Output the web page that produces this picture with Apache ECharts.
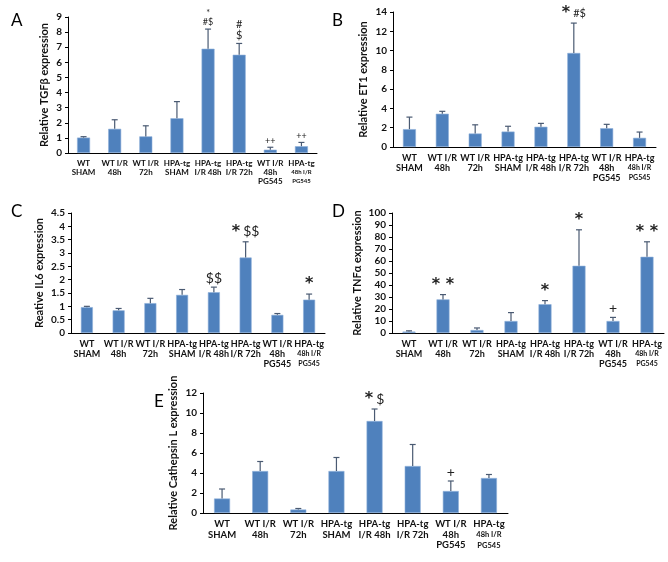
<!DOCTYPE html>
<html>
<head>
<meta charset="utf-8">
<script src="https://cdn.jsdelivr.net/npm/echarts@6/dist/echarts.min.js"></script>
<style>
  html, body { margin: 0; padding: 0; background: #fff; }
  #chart { width: 668px; height: 562px; }
</style>
</head>
<body>
<div id="chart"></div>
<script>
// category labels (last group uses smaller type for its 2nd/3rd line)
const labelsA = ["WT\nSHAM", "WT I/R\n48h", "WT I/R\n72h", "HPA-tg\nSHAM", "HPA-tg\nI/R 48h", "HPA-tg\nI/R 72h", "WT I/R\n48h\nPG545", "HPA-tg\n{s|48h I/R}\n{s|PG545}"];
const labelsB = ["WT\nSHAM", "WT I/R\n48h", "WT I/R\n72h", "HPA-tg\nSHAM", "HPA-tg\nI/R 48h", "HPA-tg\nI/R 72h", "WT I/R\n48h\nPG545", "HPA-tg\n{s|48h I/R}\n{s|PG545}"];
const labelsE = ["WT\nSHAM", "WT I/R\n48h", "WT I/R\n72h", "HPA-tg\nSHAM", "HPA-tg\nI/R 48h", "HPA-tg\nI/R 72h", "WT I/R\n48h\nPG545", "HPA-tg\n{s|48h I/R}\n{s|PG545}"];

// A: TGFβ
const tgfMean = [1.02, 1.6, 1.1, 2.3, 6.9, 6.5, 0.22, 0.45];
const tgfSd = [0.06, 0.6, 0.7, 1.1, 1.3, 0.75, 0.16, 0.25];
const tgfMarks = ["", "", "", "", "{s|*}\n{s|#$}", "{m|#}\n{m|$}", "{s|++}", "{s|++}"];
// B: ET1
const et1Mean = [1.85, 3.45, 1.4, 1.6, 2.1, 9.75, 1.95, 0.95];
const et1Sd = [1.25, 0.25, 0.9, 0.55, 0.35, 3.1, 0.4, 0.6];
const et1Marks = ["", "", "", "", "", "{b|*} {m|#$}", "", ""];
// C: IL6
const il6Mean = [0.97, 0.85, 1.12, 1.43, 1.53, 2.83, 0.68, 1.25];
const il6Sd = [0.03, 0.07, 0.18, 0.2, 0.19, 0.59, 0.05, 0.21];
const il6Marks = ["", "", "", "", "{l|$$}", "{b|*} {l|$$}", "", "{b|*}"];
// D: TNFα
const tnfMean = [1.2, 28, 2.5, 10, 24, 56, 10, 63.5];
const tnfSd = [0.6, 4, 1.7, 7, 3, 30, 3, 12.5];
const tnfMarks = ["", "{b|* *}", "", "", "{b|*}", "{b|*}", "{l|+}", "{b|* *}"];
// E: Cathepsin L
const catMean = [1.45, 4.2, 0.35, 4.2, 9.2, 4.7, 2.2, 3.5];
const catSd = [0.95, 0.95, 0.1, 1.35, 1.2, 2.15, 1.0, 0.35];
const catMarks = ["", "", "", "", "{b|*} {l|$}", "", "{l|+}", ""];

const FONT = "Lato";
const BAR = "#4F81BD";

const markRich = {
  s: { fontSize: 9, fontFamily: FONT, lineHeight: 9 },
  m: { fontSize: 11, fontFamily: FONT, lineHeight: 11 },
  l: { fontSize: 14, fontFamily: FONT },
  b: { fontSize: 16, fontFamily: "DejaVu Sans", fontWeight: "bold" }
};

function errItem(params, api) {
  const base = api.coord([api.value(0), api.value(1)]);
  const top = api.coord([api.value(0), api.value(1) + api.value(2)]);
  const st = { stroke: "#4a5a72", lineWidth: 1.2 };
  return {
    type: "group",
    children: [
      { type: "line", shape: { x1: base[0], y1: base[1], x2: top[0], y2: top[1] }, style: st },
      { type: "line", shape: { x1: top[0] - 3, y1: top[1], x2: top[0] + 3, y2: top[1] }, style: st }
    ]
  };
}

function markItem(marks) {
  return function (params, api) {
    const txt = marks[params.dataIndex];
    if (!txt) return null;
    const p = api.coord([api.value(0), api.value(1) + api.value(2)]);
    return {
      type: "text",
      style: {
        text: txt, x: p[0], y: p[1] - 2,
        align: "center", verticalAlign: "bottom",
        fill: "#222", fontFamily: FONT, rich: markRich
      }
    };
  };
}

let grids = [], xAxes = [], yAxes = [], series = [], titles = [];

function addPanel(i, cfg) {
  grids.push(cfg.grid);
  xAxes.push({
    type: "category", gridIndex: i, data: cfg.labels,
    axisLine: { lineStyle: { color: "#000", width: 1 } },
    axisTick: { alignWithLabel: false, length: 4, lineStyle: { color: "#000" } },
    axisLabel: {
      interval: 0, color: "#111", fontFamily: FONT, fontWeight: "bold",
      fontSize: cfg.xFont, lineHeight: cfg.xFont + 1, margin: 6,
      rich: { s: { fontSize: cfg.xFont - 2, fontWeight: "bold", fontFamily: FONT, lineHeight: cfg.xFont + 1, color: "#111" } }
    }
  });
  yAxes.push({
    type: "value", gridIndex: i, min: 0, max: cfg.max, interval: cfg.step,
    name: cfg.name, nameLocation: "middle", nameGap: cfg.nameGap,
    nameTextStyle: { fontFamily: FONT, fontSize: 11, fontWeight: "bold", color: "#111" },
    axisLine: { show: true, lineStyle: { color: "#000", width: 1 } },
    axisTick: { show: true, length: 3, lineStyle: { color: "#000" } },
    splitLine: { show: false },
    axisLabel: { color: "#111", fontFamily: FONT, fontWeight: "bold", fontSize: 10, margin: 6 }
  });
  const rows = cfg.mean.map((m, k) => [k, m, cfg.sd[k]]);
  series.push({
    type: "bar", xAxisIndex: i, yAxisIndex: i, data: cfg.mean, barWidth: cfg.barW,
    itemStyle: { color: BAR, borderColor: "#8fb0da", borderWidth: 0.6 },
    silent: true
  });
  series.push({
    type: "custom", xAxisIndex: i, yAxisIndex: i, data: rows,
    renderItem: errItem, z: 3, silent: true
  });
  series.push({
    type: "custom", xAxisIndex: i, yAxisIndex: i, data: rows,
    renderItem: markItem(cfg.marks), z: 4, silent: true
  });
  titles.push({
    text: cfg.letter, left: cfg.lx, top: cfg.ly,
    textStyle: { fontFamily: FONT, fontWeight: "normal", fontSize: 17, color: "#000" }
  });
}

addPanel(0, {
  letter: "A", lx: 6, ly: 7,
  grid: { left: 68, top: 17, width: 249, height: 136 },
  labels: labelsA, xFont: 8, barW: 13,
  max: 9, step: 1, name: "Relative TGFβ expression", nameGap: 18,
  mean: tgfMean, sd: tgfSd, marks: tgfMarks
});
addPanel(1, {
  letter: "B", lx: 327, ly: 7,
  grid: { left: 393, top: 12, width: 263, height: 135 },
  labels: labelsB, xFont: 9, barW: 13,
  max: 14, step: 2, name: "Relative ET1 expression", nameGap: 24,
  mean: et1Mean, sd: et1Sd, marks: et1Marks
});
addPanel(2, {
  letter: "C", lx: 6, ly: 198,
  grid: { left: 71, top: 213, width: 254, height: 120 },
  labels: labelsB, xFont: 9, barW: 12,
  max: 4.5, step: 0.5, name: "Reative IL6 expression", nameGap: 26,
  mean: il6Mean, sd: il6Sd, marks: il6Marks
});
addPanel(3, {
  letter: "D", lx: 327, ly: 198,
  grid: { left: 392, top: 213, width: 272, height: 120 },
  labels: labelsB, xFont: 9, barW: 13,
  max: 100, step: 10, name: "Relative TNFα expression", nameGap: 29,
  mean: tnfMean, sd: tnfSd, marks: tnfMarks
});
addPanel(4, {
  letter: "E", lx: 149, ly: 388,
  grid: { left: 203, top: 393, width: 305, height: 120 },
  labels: labelsE, xFont: 9.5, barW: 16,
  max: 12, step: 2, name: "Relative Cathepsin L expression", nameGap: 24,
  mean: catMean, sd: catSd, marks: catMarks
});

const chart = echarts.init(document.getElementById("chart"));
chart.setOption({
  animation: false,
  backgroundColor: "#fff",
  title: titles,
  grid: grids,
  xAxis: xAxes,
  yAxis: yAxes,
  series: series
});
</script>
</body>
</html>
